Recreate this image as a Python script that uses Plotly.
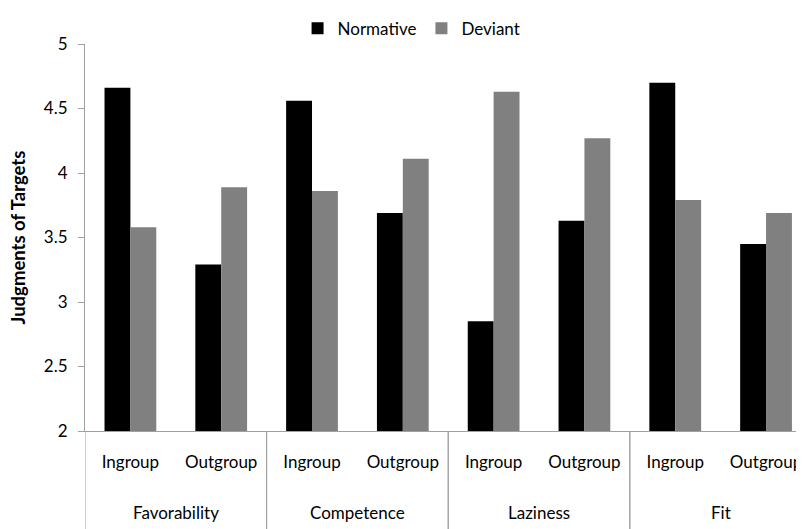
import plotly.graph_objects as go

measures = ["Favorability", "Favorability", "Competence", "Competence",
            "Laziness", "Laziness", "Fit", "Fit"]
groups = ["Ingroup", "Outgroup"] * 4
normative = [4.66, 3.29, 4.56, 3.69, 2.85, 3.63, 4.70, 3.45]
deviant = [3.58, 3.89, 3.86, 4.11, 4.63, 4.27, 3.79, 3.69]

FONT = "Lato"
AXIS = "#A0A0A0"

keys = [f"{m} {g}" for m, g in zip(measures, groups)]

fig = go.Figure()
fig.add_trace(go.Bar(x=keys, y=normative, name="Normative",
                     marker=dict(color="#000000", line=dict(width=0))))
fig.add_trace(go.Bar(x=keys, y=deviant, name="Deviant",
                     marker=dict(color="#808080", line=dict(width=0))))

# group labels and dividers derived from the category lists
unique_measures = []
for m in measures:
    if m not in unique_measures:
        unique_measures.append(m)
annotations = []
shapes = []
for m in unique_measures:
    idx = [i for i, mm in enumerate(measures) if mm == m]
    annotations.append(dict(x=sum(idx) / len(idx), xref="x", y=0, yref="paper",
                            yanchor="middle", yshift=-81, text=m, showarrow=False,
                            font=dict(size=17, family=FONT, color="#000000")))
    for b in (min(idx) - 0.5, max(idx) + 0.5):
        shapes.append(dict(type="line", xref="x", yref="paper", x0=b, x1=b,
                           y0=0, y1=-0.3, line=dict(color=AXIS, width=1)))

annotations.append(dict(x=0, xref="paper", xshift=-68, xanchor="center",
                        y=0.5, yref="paper", yanchor="middle", textangle=-90,
                        text="<b>Judgments of Targets</b>", showarrow=False,
                        font=dict(size=18.5, family=FONT, color="#000000")))

fig.update_layout(
    width=796, height=521,
    margin=dict(l=77, r=0, t=36, b=98, autoexpand=False),
    paper_bgcolor="white", plot_bgcolor="white",
    barmode="group", bargap=0.43, bargroupgap=0,
    font=dict(family=FONT, size=17, color="#000000"),
    legend=dict(orientation="h", x=0.507, xref="container", xanchor="center",
                y=0.995, yref="container", yanchor="top",
                font=dict(size=17, family=FONT), tracegroupgap=0),
    showlegend=True,
    annotations=annotations,
    shapes=shapes,
)
fig.update_xaxes(
    type="category", range=[-0.5, 7.418], automargin=False,
    tickvals=keys, ticktext=groups, ticklabeloverflow="allow",
    showline=True, linecolor=AXIS, linewidth=1,
    ticks="", showgrid=False, zeroline=False, ticklabelstandoff=16,
    tickfont=dict(size=17, family=FONT),
)
fig.update_yaxes(
    range=[2, 5], dtick=0.5, tick0=2, automargin=False,
    showline=True, linecolor=AXIS, linewidth=1,
    ticks="outside", ticklen=6, tickcolor=AXIS,
    showgrid=False, zeroline=False, ticklabelstandoff=7,
    tickfont=dict(size=17, family=FONT),
)

fig.write_html("out.html")
